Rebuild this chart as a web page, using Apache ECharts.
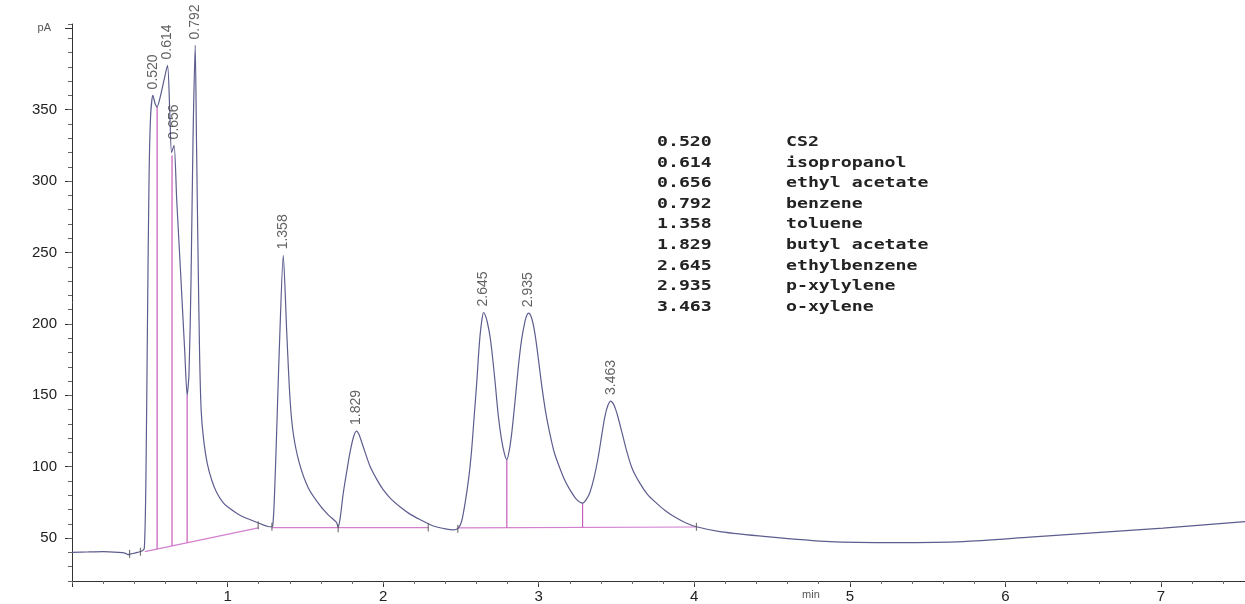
<!DOCTYPE html>
<html>
<head>
<meta charset="utf-8">
<script src="https://cdn.jsdelivr.net/npm/echarts@6/dist/echarts.min.js"></script>
<style>
  html, body { margin: 0; padding: 0; background: #fff; }
  #chart { width: 1245px; height: 604px; }
</style>
</head>
<body>
<div id="chart"></div>
<script>
// peak table
var retentionTimes = [0.520, 0.614, 0.656, 0.792, 1.358, 1.829, 2.645, 2.935, 3.463];
var compoundNames = ['CS2', 'isopropanol', 'ethyl acetate', 'benzene', 'toluene',
  'butyl acetate', 'ethylbenzene', 'p-xylylene', 'o-xylene'];
var peakHeights = [360, 381, 325, 395, 248, 125, 208, 207.5, 146];

// detector trace (min, pA)
var traceTime = [0.00, 0.10, 0.20, 0.30, 0.34, 0.36, 0.38, 0.42, 0.45, 0.465, 0.475, 0.485, 0.495, 0.505,
  0.520, 0.535, 0.547, 0.565, 0.590, 0.614, 0.628, 0.640, 0.656, 0.673, 0.700, 0.725, 0.740, 0.752,
  0.765, 0.778, 0.792, 0.800, 0.810, 0.820, 0.830, 0.845, 0.870, 0.900, 0.930, 0.970, 1.000, 1.080,
  1.190, 1.270, 1.290, 1.305, 1.320, 1.335, 1.358, 1.380, 1.400, 1.420, 1.460, 1.520, 1.600, 1.650,
  1.700, 1.711, 1.725, 1.743, 1.765, 1.787, 1.810, 1.829, 1.845, 1.872, 1.915, 1.960, 2.000, 2.050,
  2.108, 2.170, 2.237, 2.322, 2.400, 2.451, 2.483, 2.505, 2.526, 2.550, 2.569, 2.585, 2.601, 2.613,
  2.623, 2.635, 2.645, 2.657, 2.670, 2.686, 2.700, 2.719, 2.740, 2.761, 2.780, 2.795, 2.810, 2.826,
  2.848, 2.869, 2.890, 2.912, 2.925, 2.935, 2.948, 2.962, 2.976, 2.995, 3.018, 3.045, 3.072, 3.100,
  3.136, 3.170, 3.200, 3.240, 3.282, 3.305, 3.329, 3.355, 3.383, 3.405, 3.425, 3.445, 3.463, 3.480,
  3.495, 3.509, 3.535, 3.563, 3.600, 3.650, 3.700, 3.757, 3.810, 3.864, 3.940, 4.014, 4.165, 4.464,
  4.871, 5.300, 5.728, 6.157, 6.585, 7.013, 7.540];
var traceSignal = [40.0, 40.3, 40.5, 40.0, 39.5, 38.5, 39.0, 40.0, 41.0, 43, 90, 200, 300, 345,
  360, 354, 352, 358, 370, 381, 350, 320, 325, 287, 232, 180, 150, 165,
  230, 330, 395, 330, 250, 180, 140, 120, 102, 90, 82, 75, 72, 66,
  61, 58, 58.5, 90, 140, 190, 248, 195, 150, 125, 103, 85, 72, 66,
  61, 57.5, 65, 81, 96, 110, 121, 125, 122.5, 114, 100.5, 91, 84, 77.5,
  72, 67, 63, 58.5, 56.5, 55.8, 57, 62, 74, 92, 112, 135, 158, 178,
  192, 203, 208, 206, 201, 192, 180, 160, 136, 119, 109, 105, 111, 123,
  146, 170, 189, 202, 206.5, 207.5, 206, 201, 193, 178, 158, 138, 123, 110,
  99, 90, 84, 77.5, 74.5, 77, 82, 92, 107, 122, 135, 143, 146, 144,
  140, 135, 124, 112, 99, 88.5, 80.5, 74.5, 69.5, 65.5, 61, 58, 54.6, 51.1,
  47.6, 46.9, 47.6, 50.7, 53.9, 57, 61.6];

// integration baselines
var baselineStartTime = [0.468, 1.285, 2.480];
var baselineStartSignal = [40.6, 57.4, 57.2];
var baselineEndTime = [1.197, 2.290, 4.014];
var baselineEndSignal = [57.2, 57.4, 57.8];

// drop lines at the valleys
var dropTime = [0.547, 0.643, 0.740, 2.795, 3.282];
var dropBase = [42.4, 44.6, 47.0, 57.3, 57.4];
var dropTop = [352, 318, 150, 105, 74.5];

// small event marks on the baseline
var eventTime = [0.37, 0.44, 1.197, 1.285, 1.711, 2.290, 2.480, 4.014];
var eventSignal = [39, 40.5, 59, 58, 57, 57.5, 56.5, 58];

// axis labels
var xLabelValues = [1, 2, 3, 4, 5, 6, 7];
var xUnitAt = 4.75;
var yLabelValues = [50, 100, 150, 200, 250, 300, 350];
var yUnitAt = 407;

var traceData = traceTime.map(function (t, i) { return [t, traceSignal[i]]; });

var baselineData = [];
baselineStartTime.forEach(function (t, i) {
  baselineData.push([t, baselineStartSignal[i]]);
  baselineData.push([baselineEndTime[i], baselineEndSignal[i]]);
  baselineData.push([baselineEndTime[i], '-']);
});

var dropData = [];
dropTime.forEach(function (t, i) {
  dropData.push([t, dropBase[i]]);
  dropData.push([t, dropTop[i]]);
  dropData.push([t, '-']);
});

var eventData = eventTime.map(function (t, i) { return [t, eventSignal[i]]; });
var peakData = retentionTimes.map(function (t, i) { return [t, peakHeights[i]]; });

var axisColor = '#333';
var fontFamily = '"Liberation Sans", Arial, sans-serif';

var myChart = echarts.init(document.getElementById('chart'));
var option = {
  animation: false,
  backgroundColor: '#fff',
  grid: { left: 72, right: 0, top: 24, bottom: 23 },
  xAxis: [
    {
      type: 'value', min: 0, max: 7.54, interval: 1,
      axisLine: { lineStyle: { color: axisColor, width: 1 } },
      axisTick: { length: 6, lineStyle: { color: axisColor } },
      splitLine: { show: false },
      axisLabel: {
        customValues: xLabelValues.concat([xUnitAt]),
        margin: 8,
        fontSize: 15,
        color: '#222',
        fontFamily: fontFamily,
        formatter: function (v) { return v === xUnitAt ? '{u|min}' : String(v); },
        rich: { u: { fontSize: 11, color: '#555', fontFamily: fontFamily, padding: [0, 0, 4, 0] } }
      }
    },
    {
      type: 'value', min: 0, max: 7.54, interval: 0.2, position: 'bottom',
      axisLine: { show: false },
      axisTick: { length: 3, lineStyle: { color: '#666' } },
      axisLabel: { show: false },
      splitLine: { show: false }
    }
  ],
  yAxis: [
    {
      type: 'value', min: 20, max: 410,
      axisLine: { show: true, lineStyle: { color: axisColor, width: 1 } },
      axisTick: { show: true, length: 7, customValues: yLabelValues.concat([yUnitAt]), lineStyle: { color: axisColor } },
      splitLine: { show: false },
      axisLabel: {
        customValues: yLabelValues.concat([yUnitAt]),
        margin: 15,
        fontSize: 15,
        color: '#222',
        fontFamily: fontFamily,
        formatter: function (v) { return v === yUnitAt ? '{u|pA}' : String(v); },
        rich: { u: { fontSize: 11, color: '#555', fontFamily: fontFamily, padding: [0, 6, 0, 0] } }
      }
    },
    {
      type: 'value', min: 20, max: 410, interval: 10, position: 'left',
      axisLine: { show: false },
      axisTick: { show: true, length: 4, lineStyle: { color: '#666' } },
      axisLabel: { show: false },
      splitLine: { show: false }
    }
  ],
  series: [
    {
      name: 'baseline',
      type: 'line',
      data: baselineData,
      showSymbol: false,
      connectNulls: false,
      lineStyle: { color: '#d27fcf', width: 1.2 },
      z: 2
    },
    {
      name: 'drops',
      type: 'line',
      data: dropData,
      showSymbol: false,
      connectNulls: false,
      lineStyle: { color: '#c65cb8', width: 1.2 },
      z: 2
    },
    {
      name: 'signal',
      type: 'line',
      data: traceData,
      showSymbol: false,
      smooth: 0.25,
      lineStyle: { color: '#5d5d8f', width: 1.2 },
      z: 3
    },
    {
      name: 'events',
      type: 'scatter',
      data: eventData,
      symbol: 'rect',
      symbolSize: [1.2, 8],
      itemStyle: { color: '#555' },
      z: 4
    },
    {
      name: 'peaks',
      type: 'scatter',
      data: peakData,
      symbolSize: 0,
      label: {
        show: true,
        position: 'top',
        distance: 6,
        rotate: 90,
        align: 'left',
        verticalAlign: 'middle',
        fontSize: 14,
        color: '#3a3a3a',
        fontFamily: fontFamily,
        formatter: function (p) { return p.value[0].toFixed(3); }
      },
      z: 5
    }
  ],
  graphic: [
    {
      type: 'text',
      x: 657, y: 132,
      scaleX: 1.3,
      style: {
        text: retentionTimes.map(function (t) { return t.toFixed(3); }).join('\n'),
        font: 'bold 14px "DejaVu Sans Mono", monospace',
        lineHeight: 20.6,
        fill: '#222',
        align: 'left',
        verticalAlign: 'top'
      }
    },
    {
      type: 'text',
      x: 786, y: 132,
      scaleX: 1.3,
      style: {
        text: compoundNames.join('\n'),
        font: 'bold 14px "DejaVu Sans Mono", monospace',
        lineHeight: 20.6,
        fill: '#222',
        align: 'left',
        verticalAlign: 'top'
      }
    }
  ]
};
myChart.setOption(option);
</script>
</body>
</html>
